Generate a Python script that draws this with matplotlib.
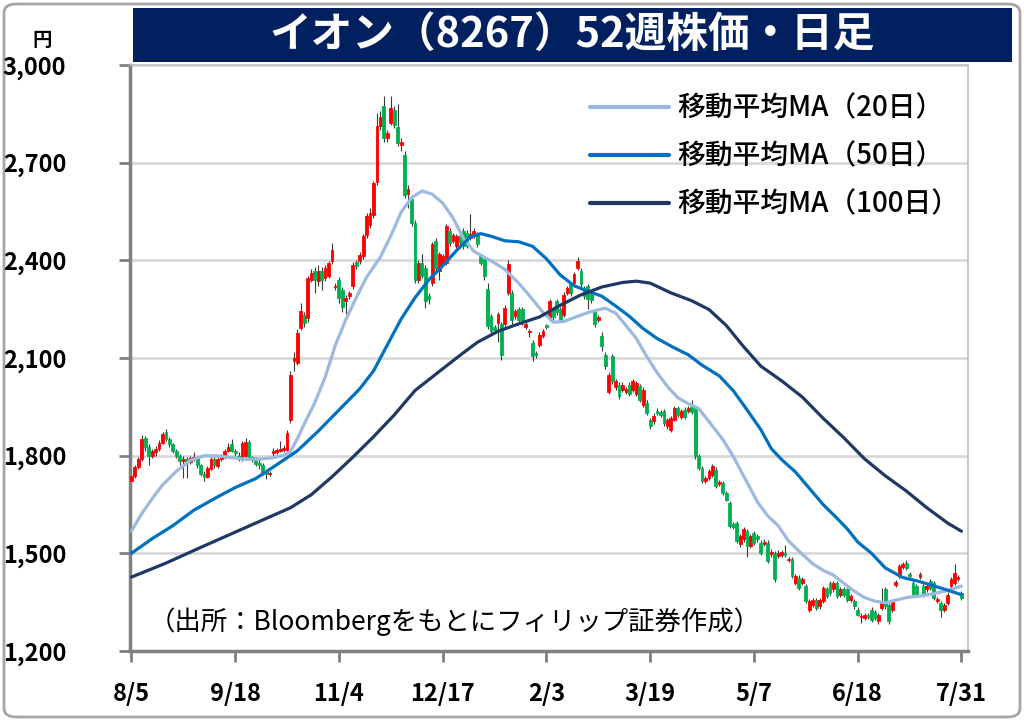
import numpy as np
import matplotlib.pyplot as plt
from matplotlib.patches import FancyBboxPatch, Rectangle
from matplotlib.ticker import FuncFormatter

plt.rcParams['font.family'] = ['Noto Sans CJK JP', 'DejaVu Sans']
NUM_FONT = ['Liberation Sans Narrow', 'Noto Sans CJK JP', 'DejaVu Sans']

# ---------------------------------------------------------------------------
# data (daily OHLC, 241 sessions)
# ---------------------------------------------------------------------------
OPEN = [
    1722, 1738, 1765, 1790, 1855, 1828, 1800, 1812, 1822, 1840,
    1872, 1850, 1835, 1815, 1800, 1785, 1790, 1780, 1790, 1795,
    1770, 1745, 1735, 1760, 1790, 1768, 1790, 1795, 1815, 1835,
    1815, 1800, 1790, 1800, 1842, 1795, 1790, 1778, 1772, 1750,
    1745, 1808, 1810, 1815, 1818, 1818,
    1910, 2090, 2085, 2192, 2233, 2223, 2340, 2366, 2336, 2366,
    2345, 2351, 2397, 2318, 2340, 2310, 2274, 2290, 2320, 2394,
    2397, 2412, 2479, 2510, 2540, 2640, 2812, 2875, 2776, 2822,
    2862, 2811, 2755, 2725, 2603, 2588, 2516, 2341, 2393, 2377,
    2290, 2331, 2460, 2367, 2393, 2393, 2490, 2460, 2445, 2475,
    2490, 2485, 2470, 2475, 2480, 2413, 2403, 2311, 2228, 2195,
    2208, 2203, 2203, 2300, 2300, 2228, 2250, 2250, 2195, 2180,
    2146, 2115, 2141,
    2167, 2200, 2223, 2250, 2275, 2250, 2233, 2300, 2326, 2331,
    2377, 2367, 2316, 2321, 2298, 2244, 2216, 2167, 2110, 1997,
    2105, 2010, 2018, 2003, 1995, 2018, 2003, 1990, 2013, 1956,
    1962, 1910, 1905, 1938, 1935, 1936, 1890, 1879, 1910, 1946,
    1920, 1941, 1936, 1950,
    1946, 1798, 1762, 1721, 1732, 1742, 1757, 1712, 1716, 1686,
    1655, 1590, 1594, 1528, 1543, 1568, 1523, 1563, 1553, 1533,
    1530, 1533, 1498, 1502, 1492, 1495, 1500, 1478, 1482, 1410,
    1425, 1410, 1400, 1327, 1340, 1358, 1337, 1353, 1389, 1409,
    1389, 1409, 1373, 1389, 1389, 1356, 1353, 1327, 1303, 1301,
    1310, 1327, 1320, 1291, 1332, 1389, 1342, 1327, 1404, 1430,
    1458, 1471, 1438, 1409, 1400, 1428, 1400, 1389, 1414, 1409,
    1355, 1348, 1327, 1348, 1399, 1409, 1420, 1378,
]
HIGH = [
    1748, 1772, 1796, 1862, 1860, 1835, 1822, 1830, 1848, 1872,
    1882, 1856, 1840, 1820, 1805, 1800, 1796, 1800, 1812, 1800,
    1775, 1752, 1768, 1796, 1795, 1795, 1805, 1822, 1840, 1850,
    1822, 1810, 1845, 1855, 1848, 1800, 1795, 1790, 1778, 1756,
    1752, 1825, 1824, 1845, 1832, 1878,
    2060, 2118, 2190, 2270, 2240, 2352, 2372, 2378, 2385, 2380,
    2385, 2398, 2453, 2330, 2350, 2318, 2292, 2306, 2395, 2400,
    2425, 2480, 2545, 2560, 2645, 2853, 2860, 2905, 2800, 2905,
    2875, 2880, 2775, 2735, 2630, 2600, 2525, 2400, 2420, 2385,
    2300, 2455, 2468, 2425, 2420, 2512, 2500, 2485, 2482, 2482,
    2498, 2492, 2542, 2498, 2488, 2420, 2410, 2330, 2236, 2202,
    2240, 2212, 2262, 2400, 2310, 2252, 2258, 2256, 2212, 2190,
    2155, 2120, 2180,
    2190, 2205, 2282, 2258, 2282, 2256, 2302, 2322, 2334, 2365,
    2410, 2375, 2322, 2328, 2305, 2250, 2232, 2180, 2118, 2056,
    2112, 2035, 2025, 2026, 2012, 2025, 2035, 2030, 2020, 2010,
    1970, 1916, 1930, 1945, 1940, 1942, 1916, 1922, 1952, 1952,
    1942, 1948, 1952, 1970,
    1952, 1805, 1768, 1738, 1758, 1775, 1764, 1724, 1722, 1692,
    1660, 1596, 1600, 1560, 1580, 1575, 1560, 1570, 1560, 1540,
    1545, 1540, 1512, 1508, 1510, 1510, 1525, 1490, 1488, 1438,
    1432, 1428, 1406, 1360, 1362, 1364, 1364, 1400, 1396, 1416,
    1416, 1415, 1396, 1396, 1395, 1374, 1360, 1334, 1316, 1318,
    1316, 1334, 1326, 1318, 1394, 1396, 1348, 1360, 1418, 1468,
    1474, 1478, 1444, 1416, 1406, 1444, 1406, 1406, 1420, 1416,
    1366, 1354, 1348, 1380, 1426, 1468, 1434, 1385,
]
LOW = [
    1698, 1730, 1758, 1785, 1815, 1770, 1792, 1800, 1815, 1835,
    1845, 1828, 1808, 1792, 1770, 1730, 1732, 1775, 1785, 1762,
    1738, 1722, 1730, 1755, 1762, 1762, 1785, 1790, 1810, 1810,
    1800, 1785, 1785, 1795, 1790, 1780, 1768, 1760, 1742, 1728,
    1738, 1800, 1805, 1810, 1812, 1812,
    1900, 2060, 2080, 2185, 2195, 2210, 2332, 2300, 2320, 2310,
    2335, 2345, 2390, 2308, 2270, 2240, 2235, 2280, 2312, 2372,
    2390, 2405, 2470, 2500, 2530, 2630, 2800, 2765, 2765, 2815,
    2805, 2750, 2735, 2590, 2560, 2505, 2330, 2330, 2345, 2255,
    2265, 2320, 2370, 2340, 2385, 2385, 2445, 2452, 2438, 2448,
    2435, 2438, 2462, 2468, 2440, 2385, 2340, 2190, 2170, 2178,
    2150, 2095, 2195, 2292, 2205, 2220, 2210, 2200, 2188, 2165,
    2090, 2100, 2135,
    2160, 2188, 2215, 2218, 2232, 2210, 2225, 2292, 2290, 2322,
    2370, 2318, 2282, 2250, 2270, 2195, 2210, 2120, 2065, 1990,
    2020, 2002, 1975, 1996, 1988, 1982, 1996, 1982, 1965, 1948,
    1925, 1882, 1898, 1925, 1918, 1892, 1882, 1872, 1905, 1920,
    1914, 1914, 1930, 1928,
    1790, 1755, 1715, 1715, 1726, 1736, 1700, 1706, 1680, 1660,
    1578, 1574, 1532, 1520, 1536, 1490, 1516, 1526, 1536, 1495,
    1524, 1470, 1490, 1412, 1485, 1488, 1488, 1472, 1425, 1402,
    1388, 1404, 1346, 1320, 1334, 1326, 1330, 1346, 1362, 1372,
    1382, 1362, 1366, 1366, 1352, 1350, 1330, 1306, 1285, 1295,
    1298, 1290, 1294, 1284, 1326, 1330, 1284, 1320, 1398, 1424,
    1452, 1450, 1424, 1366, 1366, 1422, 1366, 1382, 1388, 1356,
    1348, 1305, 1320, 1342, 1392, 1402, 1414, 1356,
]
CLOSE = [
    1738, 1765, 1790, 1850, 1828, 1800, 1815, 1822, 1840, 1868,
    1850, 1835, 1815, 1800, 1785, 1790, 1780, 1792, 1795, 1770,
    1745, 1735, 1762, 1790, 1770, 1790, 1795, 1815, 1828, 1815,
    1808, 1790, 1838, 1842, 1795, 1790, 1775, 1772, 1750, 1745,
    1748, 1815, 1818, 1822, 1825, 1870,
    2049, 2100, 2177, 2243, 2207, 2345, 2360, 2340, 2366, 2340,
    2376, 2392, 2432, 2322, 2284, 2258, 2284, 2300, 2387, 2382,
    2417, 2474, 2537, 2545, 2637, 2812, 2840, 2776, 2790, 2868,
    2817, 2760, 2762, 2600, 2619, 2516, 2341, 2393, 2352, 2275,
    2280, 2449, 2377, 2418, 2413, 2506, 2454, 2478, 2475, 2455,
    2444, 2445, 2480, 2490, 2450, 2393, 2352, 2198, 2182, 2185,
    2234, 2110, 2254, 2388, 2218, 2244, 2218, 2210, 2205, 2184,
    2105, 2110, 2172,
    2182, 2194, 2275, 2225, 2240, 2218, 2295, 2315, 2300, 2357,
    2398, 2326, 2290, 2280, 2278, 2203, 2226, 2136, 2074, 2049,
    2028, 2028, 1982, 2018, 2005, 1990, 2028, 2022, 1972, 2003,
    1931, 1890, 1923, 1932, 1925, 1900, 1910, 1915, 1946, 1926,
    1936, 1920, 1946, 1935,
    1798, 1762, 1721, 1731, 1752, 1767, 1706, 1718, 1686, 1665,
    1584, 1580, 1538, 1553, 1574, 1523, 1553, 1533, 1543, 1502,
    1535, 1477, 1504, 1420, 1502, 1503, 1494, 1484, 1431, 1431,
    1394, 1422, 1353, 1353, 1356, 1332, 1358, 1394, 1368, 1378,
    1409, 1368, 1389, 1373, 1358, 1368, 1337, 1312, 1309, 1312,
    1305, 1296, 1300, 1312, 1353, 1337, 1291, 1353, 1412, 1461,
    1468, 1456, 1430, 1373, 1373, 1438, 1373, 1399, 1394, 1363,
    1360, 1327, 1342, 1373, 1420, 1440, 1428, 1363,
]

# moving averages at the sessions listed
MA20_IDX = [0, 3, 6, 9, 13, 17, 21, 25, 29, 33, 37, 41, 44, 46, 48, 50,
            53, 56, 59, 62, 65, 68, 72, 75, 78, 81, 84, 87, 90, 93, 96,
            99, 102, 105, 108, 112, 116, 119, 122, 125, 129, 133, 137,
            140, 143, 146, 149, 152, 155, 158, 161, 164, 167, 171, 174,
            177, 181, 184, 187, 190, 194, 197, 200, 203, 206, 209, 212,
            215, 218, 221, 224, 228, 232, 236, 240]
MA20 = [1568, 1622, 1668, 1710, 1752, 1785, 1800, 1799, 1794, 1789, 1789,
        1794, 1801, 1813, 1852, 1898, 1962, 2040, 2140, 2218, 2285, 2348,
        2410, 2475, 2548, 2592, 2613, 2603, 2576, 2530, 2468, 2428, 2410,
        2392, 2372, 2330, 2280, 2240, 2210, 2212, 2228, 2243, 2253, 2238,
        2200, 2160, 2105, 2055, 2012, 1978, 1960, 1945, 1905, 1850, 1798,
        1738, 1658, 1615, 1585, 1538, 1497, 1468, 1448, 1433, 1408, 1384,
        1364, 1353, 1348, 1356, 1364, 1369, 1376, 1386, 1399]

MA50_IDX = [0, 6, 12, 18, 24, 30, 36, 42, 48, 54, 60, 66, 70, 74, 78, 82,
            86, 90, 94, 98, 101, 104, 108, 112, 116, 120, 124, 128, 132,
            136, 140, 144, 148, 152, 157, 161, 165, 170, 174, 178, 182,
            185, 188, 192, 196, 200, 204, 207, 210, 214, 218, 223, 228,
            232, 236, 240]
MA50 = [1500, 1545, 1585, 1632, 1668, 1702, 1730, 1772, 1815, 1875, 1940,
        2005, 2060, 2140, 2220, 2285, 2340, 2383, 2430, 2472, 2482, 2474,
        2460, 2457, 2443, 2405, 2355, 2322, 2305, 2290, 2260, 2228, 2190,
        2160, 2131, 2110, 2078, 2045, 2000, 1941, 1880, 1822, 1788, 1750,
        1700, 1650, 1608, 1575, 1535, 1500, 1455, 1426, 1413, 1400, 1387,
        1373]

MA100_IDX = [0, 10, 20, 30, 40, 46, 52, 58, 64, 70, 76, 82, 88, 94, 100,
             106, 112, 118, 124, 130, 136, 142, 146, 150, 156, 162, 167,
             172, 177, 182, 188, 194, 200, 206, 212, 218, 224, 230, 236,
             240]
MA100 = [1427, 1470, 1518, 1565, 1612, 1640, 1680, 1735, 1795, 1858, 1925,
         2000, 2050, 2100, 2148, 2182, 2205, 2226, 2262, 2294, 2318, 2332,
         2336, 2330, 2300, 2276, 2249, 2200, 2135, 2075, 2030, 1980, 1915,
         1855, 1790, 1738, 1692, 1640, 1593, 1568]

TICK_POS = [0, 30, 60, 90, 120, 150, 180, 210, 240]
TICK_LABELS = ["8/5", "9/18", "11/4", "12/17", "2/3", "3/19", "5/7", "6/18", "7/31"]
MA_LABELS = ["移動平均MA（20日）", "移動平均MA（50日）", "移動平均MA（100日）"]
MA_COLORS = ["#9DB9DE", "#0070C0", "#1F3864"]

TITLE = "イオン（8267）52週株価・日足"
SOURCE = "（出所：Bloombergをもとにフィリップ証券作成）"

# ---------------------------------------------------------------------------
W, H = 1024, 721
fig = plt.figure(figsize=(W / 100, H / 100), dpi=100)

# outer rounded frame
fig.patches.append(FancyBboxPatch(
    (4 / W, 4 / H), 1 - 8 / W, 1 - 8 / H,
    boxstyle="round,pad=0,rounding_size=0.012",
    transform=fig.transFigure, facecolor="white",
    edgecolor="#A6A6A6", linewidth=2.0, zorder=0))

# title banner
fig.patches.append(Rectangle(
    (133 / W, 1 - 62 / H), (1012 - 133) / W, 54 / H,
    transform=fig.transFigure, facecolor="#002060",
    edgecolor="none", zorder=1))
fig.text(572 / W, 1 - 36 / H, TITLE, ha="center", va="center",
         color="white", fontsize=30, fontweight="bold")

fig.text(42 / W, 1 - 40 / H, "円", ha="center", va="center",
         fontsize=14, fontweight="bold")

ax = fig.add_axes([130 / W, 70 / H, 838 / W, 586 / H])
ax.set_zorder(2)
ax.patch.set_alpha(0)

idx = np.arange(len(CLOSE))
o = np.array(OPEN, float)
c = np.array(CLOSE, float)
hi = np.maximum(np.array(HIGH, float), np.maximum(o, c))
lo = np.minimum(np.array(LOW, float), np.minimum(o, c))
up = c >= o
body_col = np.where(up, "#FF0000", "#00B050")

ax.vlines(idx, lo, hi, color="#3A3A3A", linewidth=0.8, zorder=2)
ax.bar(idx, np.abs(c - o), bottom=np.minimum(o, c), width=0.82,
       color=body_col, edgecolor=body_col, linewidth=0.6, zorder=3)

handles = []
for xs, vals, col, lab in zip([MA20_IDX, MA50_IDX, MA100_IDX],
                              [MA20, MA50, MA100], MA_COLORS, MA_LABELS):
    ln, = ax.plot(xs, vals, color=col, linewidth=2.3,
                  solid_capstyle="round", solid_joinstyle="round",
                  zorder=4, label=lab)
    handles.append(ln)

ax.set_xlim(-0.4, 241.9)
ax.set_ylim(1200, 3000)
ax.set_yticks(range(1200, 3001, 300))
ax.yaxis.set_major_formatter(FuncFormatter(lambda v, p: f"{int(v):,}"))
ax.set_xticks(TICK_POS)
ax.set_xticklabels(TICK_LABELS)

ax.grid(axis="y", color="#D9D9D9", linewidth=2.0, zorder=0)
ax.set_axisbelow(True)

for side in ("left", "bottom"):
    ax.spines[side].set_color("#808080")
    ax.spines[side].set_linewidth(2.5)
for side in ("top", "right"):
    ax.spines[side].set_color("#BFBFBF")
    ax.spines[side].set_linewidth(1.2)

ax.tick_params(axis="y", direction="out", length=8, width=2.0,
               color="#808080", pad=38)
ax.tick_params(axis="x", direction="out", length=8, width=2.0,
               color="#808080", pad=14)
for t in ax.get_yticklabels() + ax.get_xticklabels():
    t.set_family(NUM_FONT)
    t.set_fontweight("bold")
    t.set_fontsize(17)

leg = ax.legend(handles=handles, loc="upper right",
                bbox_to_anchor=(0.99, 0.951), frameon=False,
                prop={"size": 20, "weight": "medium"},
                handlelength=2.85, handletextpad=0.3,
                labelspacing=0.68, borderpad=0, borderaxespad=0)
for ln in leg.get_lines():
    ln.set_linewidth(3.0)

ax.text(0.022, 0.05, SOURCE, transform=ax.transAxes, ha="left",
        va="center", fontsize=19)

fig.savefig("out.png", dpi=100)
